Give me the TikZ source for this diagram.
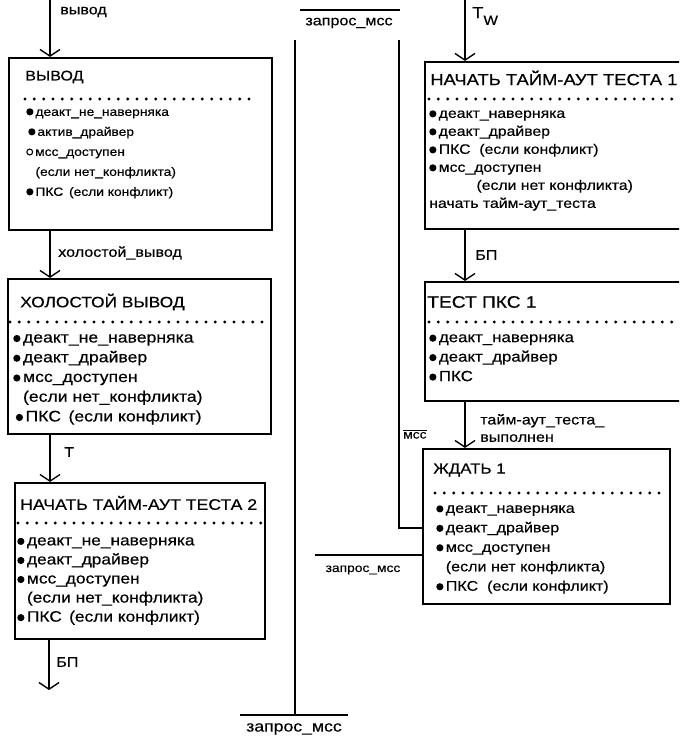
\documentclass[tikz,border=0pt]{standalone}
\usepackage{fontspec}
\setmainfont{Liberation Sans}[FakeStretch=1.15,FakeBold=0.4]
\usepackage{tikz}
\usetikzlibrary{positioning,fit,arrows.meta}

\newcommand{\bul}{\raisebox{0.3pt}{\tikz\fill (0,0) circle (2.7pt);}\,}
\newcommand{\obul}{\raisebox{0.3pt}{\tikz\draw[line width=0.8pt] (0,0) circle (2.2pt);}\,}
\newcommand{\nobul}{\hphantom{\bul}}

\tikzset{
  stbox/.style={draw, line width=1.6pt, inner sep=0pt},
  dots/.style={line width=2.4pt, line cap=round, dash pattern=on 0pt off 7pt},
  arr/.style={line width=1pt, -{Straight Barb[length=5pt,width=15pt,line width=1pt]}},
  sig/.style={line width=1.3pt},
  lbl/.style={inner sep=0pt, anchor=west, font=\fontsize{10.5}{13}\selectfont},
  lst/.style={inner sep=0pt, anchor=north west, align=left},
}

\begin{document}
\begin{tikzpicture}[x=0.75pt,y=0.75pt,yscale=-1,xscale=1]
\useasboundingbox (0,0) rectangle (679,737);
\clip (0,0) rectangle (679,737);

%Shape: ВЫВОД
\node[stbox, fit={(9,58) (272,230)}] (vyvod) {};
\draw[dots] (25,99) -- (258,99);
% Text Node
\node[lbl, font=\fontsize{10.5}{12}\selectfont] (vyvodT) at (25,77) {ВЫВОД};
% Text Node
\node[lst, font=\fontsize{9}{15}\selectfont] (vyvodL) at (26,108) {\bul деакт\_не\_наверняка\\
\,\bul актив\_драйвер\\
\obul мсс\_доступен\\
\nobul(если нет\_конфликта)\\
\bul ПКС\ \,(если конфликт)};

%Shape: ХОЛОСТОЙ ВЫВОД
\node[stbox, fit={(8,279) (271,434)}] (idle) {};
\draw[dots] (10,322) -- (264,322);
% Text Node
\node[lbl, font=\fontsize{11.3}{14}\selectfont] (idleT) at (20,302) {ХОЛОСТОЙ ВЫВОД};
% Text Node
\node[lst, font=\fontsize{11.5}{14.8}\selectfont] (idleL) at (13,334) {\bul деакт\_не\_наверняка\\
\bul деакт\_драйвер\\
\bul мсс\_доступен\\
\nobul(если нет\_конфликта)\\
\,\bul ПКС\ \,(если конфликт)};

%Shape: НАЧАТЬ ТАЙМ-АУТ ТЕСТА 2
\node[stbox, fit={(15,483) (265,639)}] (test2) {};
\draw[dots] (18,523) -- (262,523);
% Text Node
\node[lbl, font=\fontsize{11.5}{13}\selectfont] (test2T) at (20,503) {НАЧАТЬ ТАЙМ-АУТ ТЕСТА 2};
% Text Node
\node[lst, font=\fontsize{11.3}{14.3}\selectfont] (test2L) at (17,537) {\bul деакт\_не\_наверняка\\
\bul деакт\_драйвер\\
\bul мсс\_доступен\\
\nobul(если нет\_конфликта)\\
\bul ПКС\ \,(если конфликт)};

%Shape: НАЧАТЬ ТАЙМ-АУТ ТЕСТА 1
\node[stbox, fit={(425,62) (700,229)}] (start1) {};
\draw[dots] (429,99) -- (679,99);
% Text Node
\node[lbl, font=\fontsize{12}{13}\selectfont] (start1T) at (430,78) {НАЧАТЬ ТАЙМ-АУТ ТЕСТА 1};
% Text Node
\node[lst, font=\fontsize{10.3}{13.5}\selectfont] (start1L) at (429,110) {\bul деакт\_наверняка\\
\bul деакт\_драйвер\\
\bul ПКС\ \ (если конфликт)\\
\bul мсс\_доступен\\
\hphantom{\bul мсс\_\,}(если нет конфликта)\\
начать тайм-аут\_теста};

%Shape: ТЕСТ ПКС 1
\node[stbox, fit={(425,282) (700,401)}] (ptest1) {};
\draw[dots] (429,322) -- (679,322);
% Text Node
\node[lbl, font=\fontsize{12.5}{14}\selectfont] (ptest1T) at (427,302) {ТЕСТ ПКС 1};
% Text Node
\node[lst, font=\fontsize{11}{14.6}\selectfont] (ptest1L) at (429,334) {\bul деакт\_наверняка\\
\bul деакт\_драйвер\\
\bul ПКС};

%Shape: ЖДАТЬ 1
\node[stbox, fit={(423,449) (670,604)}] (wait1) {};
\draw[dots] (435,493) -- (665,493);
% Text Node
\node[lbl, font=\fontsize{11}{13}\selectfont] (wait1T) at (433,470) {ЖДАТЬ 1};
% Text Node
\node[lst, font=\fontsize{10.5}{14.6}\selectfont] (wait1L) at (436,505) {\bul деакт\_наверняка\\
\bul деакт\_драйвер\\
\bul мсс\_доступен\\
\nobul(если нет конфликта)\\
\bul ПКС\ \ (если конфликт)};

%Arrows: left column
\coordinate (inL) at (50,0);
\coordinate (outL) at (49,690);
\draw[arr] (inL) -- (inL |- vyvod.north);
\node[lbl] (inLlab) at (60,12) {вывод};
\draw[arr] (vyvod.south -| inL) -- (idle.north -| inL);
\node[lbl] (idleLab) at (58,253) {холостой\_вывод};
\draw[arr] (idle.south -| inL) -- (test2.north -| inL);
\node[lbl] (test2Lab) at (64,452) {T};
\draw[arr] (test2.south -| outL) -- (outL);
\node[lbl] (outLab) at (56,662) {БП};

%Arrows: right column
\coordinate (inR) at (465,0);
\draw[arr] (inR) -- (inR |- start1.north);
\node[lbl, font=\fontsize{12}{14}\selectfont] (inRlab) at (472,16) {T\raisebox{-5pt}{\fontsize{10}{12}\selectfont W}};
\draw[arr] (start1.south -| inR) -- (ptest1.north -| inR);
\node[lbl] (ptest1Lab) at (475,255) {БП};
\draw[arr] (ptest1.south -| inR) -- (wait1.north -| inR);
\node[lbl, align=left] (wait1Lab) at (480,428) {тайм-аут\_теста\_\\выполнен};

%Lines: запрос_мсс
\coordinate (zqTopA) at (300,10);
\coordinate (zqTopB) at (400,10);
\draw[sig] (zqTopA) -- (zqTopB);
\node[lbl, anchor=center] (zqTop) at (349,23) {запрос\_мсс};
\coordinate (midL) at (295,40);
\coordinate (midLb) at (295,715);
\draw[sig] (midL) -- (midLb);
\coordinate (zqBotA) at (240,715);
\coordinate (zqBotB) at (348,715);
\draw[sig] (zqBotA) -- (zqBotB);
\node[lbl, anchor=center, font=\fontsize{11.5}{13}\selectfont] (zqBot) at (294,729) {запрос\_мсс};
\coordinate (midR) at (399,40);
\coordinate (midRb) at (399,528);
\draw[sig] (midR) -- (midRb) -- (midRb -| wait1.west);
\coordinate (zqMidA) at (315,555);
\draw[sig] (zqMidA) -- (zqMidA -| wait1.west);
\node[lbl, anchor=center, font=\fontsize{9}{12}\selectfont] (zqMid) at (363,570) {запрос\_мсс};
\node[lbl, font=\fontsize{9}{12}\selectfont] (mssLab) at (403,434) {$\overline{\mbox{мсс}}$};
\end{tikzpicture}
\end{document}
